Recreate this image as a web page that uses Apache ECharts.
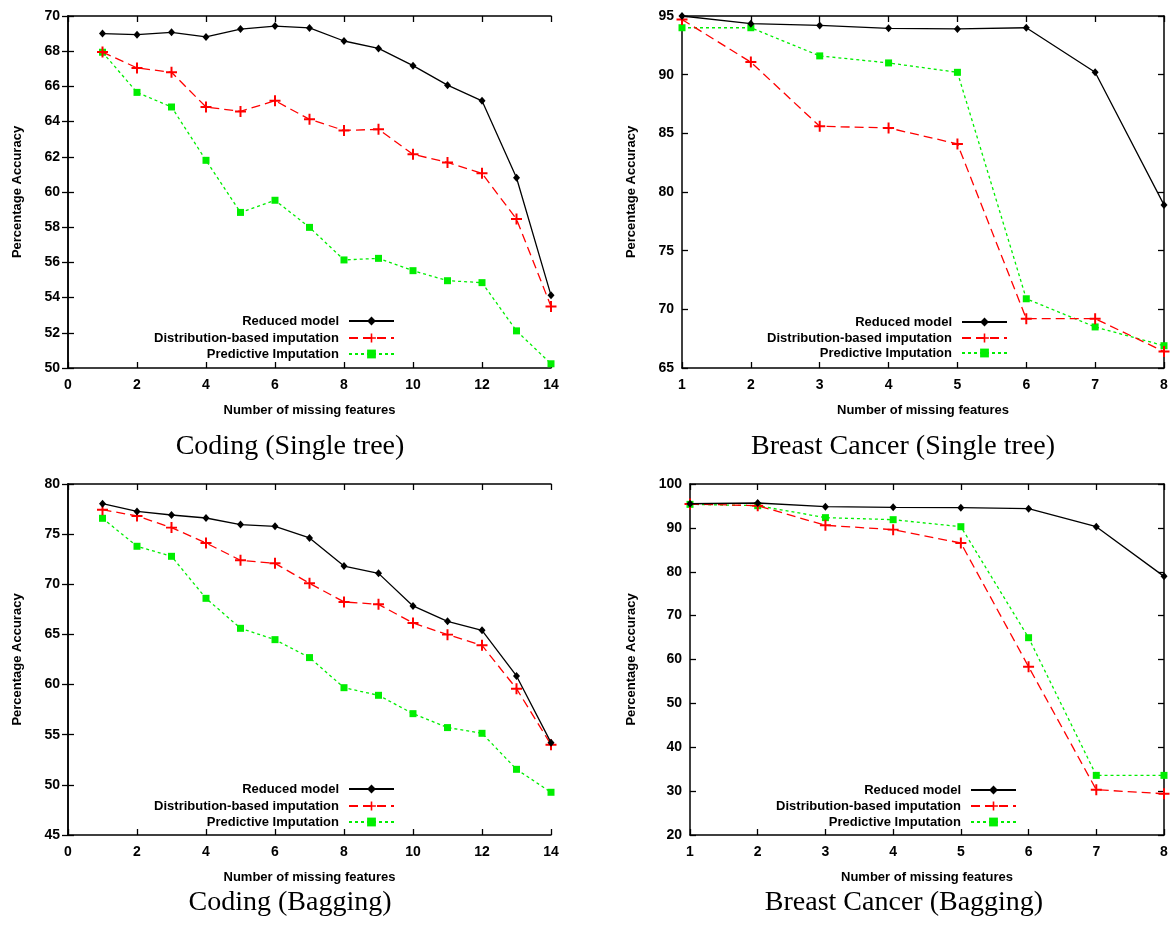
<!DOCTYPE html>
<html>
<head>
<meta charset="utf-8">
<script src="https://cdn.jsdelivr.net/npm/echarts@6/dist/echarts.min.js"></script>
<style>
html,body{margin:0;padding:0;background:#fff;}
#chart{width:1172px;height:928px;}
</style>
</head>
<body>
<div id="chart"></div>
<script>
// ---------- data ----------
const seriesNames = ['Reduced model', 'Distribution-based imputation', 'Predictive Imputation'];
const captions = ['Coding (Single tree)', 'Breast Cancer (Single tree)', 'Coding (Bagging)', 'Breast Cancer (Bagging)'];
const xAxisName = 'Number of missing features';
const yAxisName = 'Percentage Accuracy';

const codingX = [1, 2, 3, 4, 5, 6, 7, 8, 9, 10, 11, 12, 13, 14];
const cancerX = [1, 2, 3, 4, 5, 6, 7, 8];

const codingSingleReduced      = [69.0, 68.94, 69.07, 68.81, 69.26, 69.43, 69.32, 68.58, 68.16, 67.18, 66.07, 65.18, 60.81, 54.13];
const codingSingleDistribution = [67.95, 67.05, 66.8, 64.83, 64.58, 65.19, 64.13, 63.5, 63.56, 62.14, 61.68, 61.06, 58.46, 53.5];
const codingSinglePredictive   = [67.94, 65.66, 64.83, 61.8, 58.84, 59.53, 57.99, 56.14, 56.23, 55.53, 54.96, 54.85, 52.11, 50.24];

const cancerSingleReduced      = [95.0, 94.35, 94.2, 93.95, 93.9, 94.0, 90.2, 78.9];
const cancerSingleDistribution = [94.7, 91.07, 85.6, 85.46, 84.1, 69.2, 69.2, 66.4];
const cancerSinglePredictive   = [94.0, 94.0, 91.6, 91.0, 90.2, 70.9, 68.5, 66.9];

const codingBaggingReduced      = [78.04, 77.27, 76.91, 76.61, 75.95, 75.78, 74.62, 71.82, 71.09, 67.84, 66.31, 65.41, 60.86, 54.21];
const codingBaggingDistribution = [77.44, 76.81, 75.65, 74.12, 72.39, 72.09, 70.1, 68.24, 68.0, 66.14, 64.98, 63.91, 59.59, 54.01];
const codingBaggingPredictive   = [76.58, 73.79, 72.79, 68.6, 65.61, 64.48, 62.69, 59.69, 58.93, 57.1, 55.71, 55.14, 51.55, 49.26];

const cancerBaggingReduced      = [95.5, 95.67, 94.83, 94.68, 94.6, 94.38, 90.27, 78.95];
const cancerBaggingDistribution = [95.44, 95.06, 90.58, 89.6, 86.55, 58.36, 30.32, 29.4];
const cancerBaggingPredictive   = [95.36, 95.06, 92.33, 91.87, 90.27, 64.97, 33.59, 33.59];

// x axis ranges and y axis ranges per panel
const xRanges = [[0, 14, 2], [1, 8, 1], [0, 14, 2], [1, 8, 1]];
const yRanges = [[50, 70, 2], [65, 95, 5], [45, 80, 5], [20, 100, 10]];

// ---------- layout / style ----------
const grids = [
  {left: 68, top: 16, width: 483, height: 352},
  {left: 682, top: 16, width: 482, height: 352},
  {left: 68, top: 484, width: 483, height: 351},
  {left: 690, top: 484, width: 474, height: 351}
];
const panelData = [
  [codingX, [codingSingleReduced, codingSingleDistribution, codingSinglePredictive]],
  [cancerX, [cancerSingleReduced, cancerSingleDistribution, cancerSinglePredictive]],
  [codingX, [codingBaggingReduced, codingBaggingDistribution, codingBaggingPredictive]],
  [cancerX, [cancerBaggingReduced, cancerBaggingDistribution, cancerBaggingPredictive]]
];
const plusPath = 'path://M4.1,0H5.9V4.1H10V5.9H5.9V10H4.1V5.9H0V4.1H4.1Z';
const styles = [
  {color: '#000000', symbol: 'diamond', size: [7, 8], line: {width: 1.3, type: 'solid'}},
  {color: '#ff0000', symbol: plusPath, size: 11, line: {width: 1.3, type: [9, 5]}},
  {color: '#00ee00', symbol: 'rect', size: 7, line: {width: 1.3, type: [3, 3]}}
];
const FONT = '"Liberation Sans", Arial, sans-serif';
const legendRows = [[321, 338, 354], [322, 338, 353], [789, 806, 822], [790, 806, 822]];
const legendRight = [395, 1008, 395, 1017];
const captionPos = [[290, 447], [903, 447], [290, 903], [904, 903]];
const yNameCenterX = [17, 631, 17, 631];

const option = {
  animation: false,
  backgroundColor: '#ffffff',
  grid: grids.map(g => Object.assign({containLabel: false}, g)),
  xAxis: [],
  yAxis: [],
  series: [],
  legend: [],
  graphic: []
};

const axisLine = {show: true, lineStyle: {color: '#000', width: 1.5}};
const axisTick = {show: true, inside: true, length: 6, lineStyle: {color: '#000', width: 1.3}};

for (let p = 0; p < 4; p++) {
  const [xmin, xmax, xint] = xRanges[p];
  const [ymin, ymax, yint] = yRanges[p];
  // bottom x axis
  option.xAxis.push({
    type: 'value', gridIndex: p, position: 'bottom', min: xmin, max: xmax, interval: xint,
    axisLine, axisTick, splitLine: {show: false},
    axisLabel: {color: '#000', fontFamily: FONT, fontWeight: 'bold', fontSize: 14, margin: 10},
    name: xAxisName, nameLocation: 'middle', nameGap: 36,
    nameTextStyle: {color: '#000', fontFamily: FONT, fontWeight: 'bold', fontSize: 13}
  });
  // top mirror axis
  option.xAxis.push({
    type: 'value', gridIndex: p, position: 'top', min: xmin, max: xmax, interval: xint,
    axisLine, axisTick, splitLine: {show: false}, axisLabel: {show: false}
  });
  // left y axis
  option.yAxis.push({
    type: 'value', gridIndex: p, position: 'left', min: ymin, max: ymax, interval: yint,
    axisLine, axisTick, splitLine: {show: false},
    axisLabel: {color: '#000', fontFamily: FONT, fontWeight: 'bold', fontSize: 14, margin: 8},
    name: yAxisName, nameLocation: 'middle', nameGap: grids[p].left - yNameCenterX[p] - 7,
    nameTextStyle: {color: '#000', fontFamily: FONT, fontWeight: 'bold', fontSize: 13}
  });
  // right mirror axis
  option.yAxis.push({
    type: 'value', gridIndex: p, position: 'right', min: ymin, max: ymax, interval: yint,
    axisLine, axisTick, splitLine: {show: false}, axisLabel: {show: false}
  });

  const [xs, ys] = panelData[p];
  for (let s = 0; s < 3; s++) {
    const st = styles[s];
    option.series.push({
      type: 'line', name: seriesNames[s],
      xAxisIndex: p * 2, yAxisIndex: p * 2,
      data: xs.map((x, i) => [x, ys[s][i]]),
      symbol: st.symbol, symbolSize: st.size, showSymbol: true,
      clip: false, z: 3 - s + 2,
      itemStyle: {color: st.color},
      lineStyle: {color: st.color, width: st.line.width, type: st.line.type}
    });
    option.legend.push({
      data: [seriesNames[s]],
      orient: 'horizontal', align: 'right', selectedMode: false,
      right: 1172 - legendRight[p], top: legendRows[p][s] - 7,
      padding: 0, itemWidth: 45, itemHeight: 11,
      textStyle: {color: '#000', fontFamily: FONT, fontWeight: 'bold', fontSize: 13, lineHeight: 14, padding: [0, 5, 0, 0]}
    });
  }
  option.graphic.push({
    type: 'text', x: captionPos[p][0], y: captionPos[p][1],
    style: {text: captions[p], font: '28px "Liberation Serif", "Times New Roman", serif',
      fill: '#000', align: 'center', verticalAlign: 'middle'}
  });
}

const chart = echarts.init(document.getElementById('chart'), null, {renderer: 'canvas'});
chart.setOption(option);
</script>
</body>
</html>
